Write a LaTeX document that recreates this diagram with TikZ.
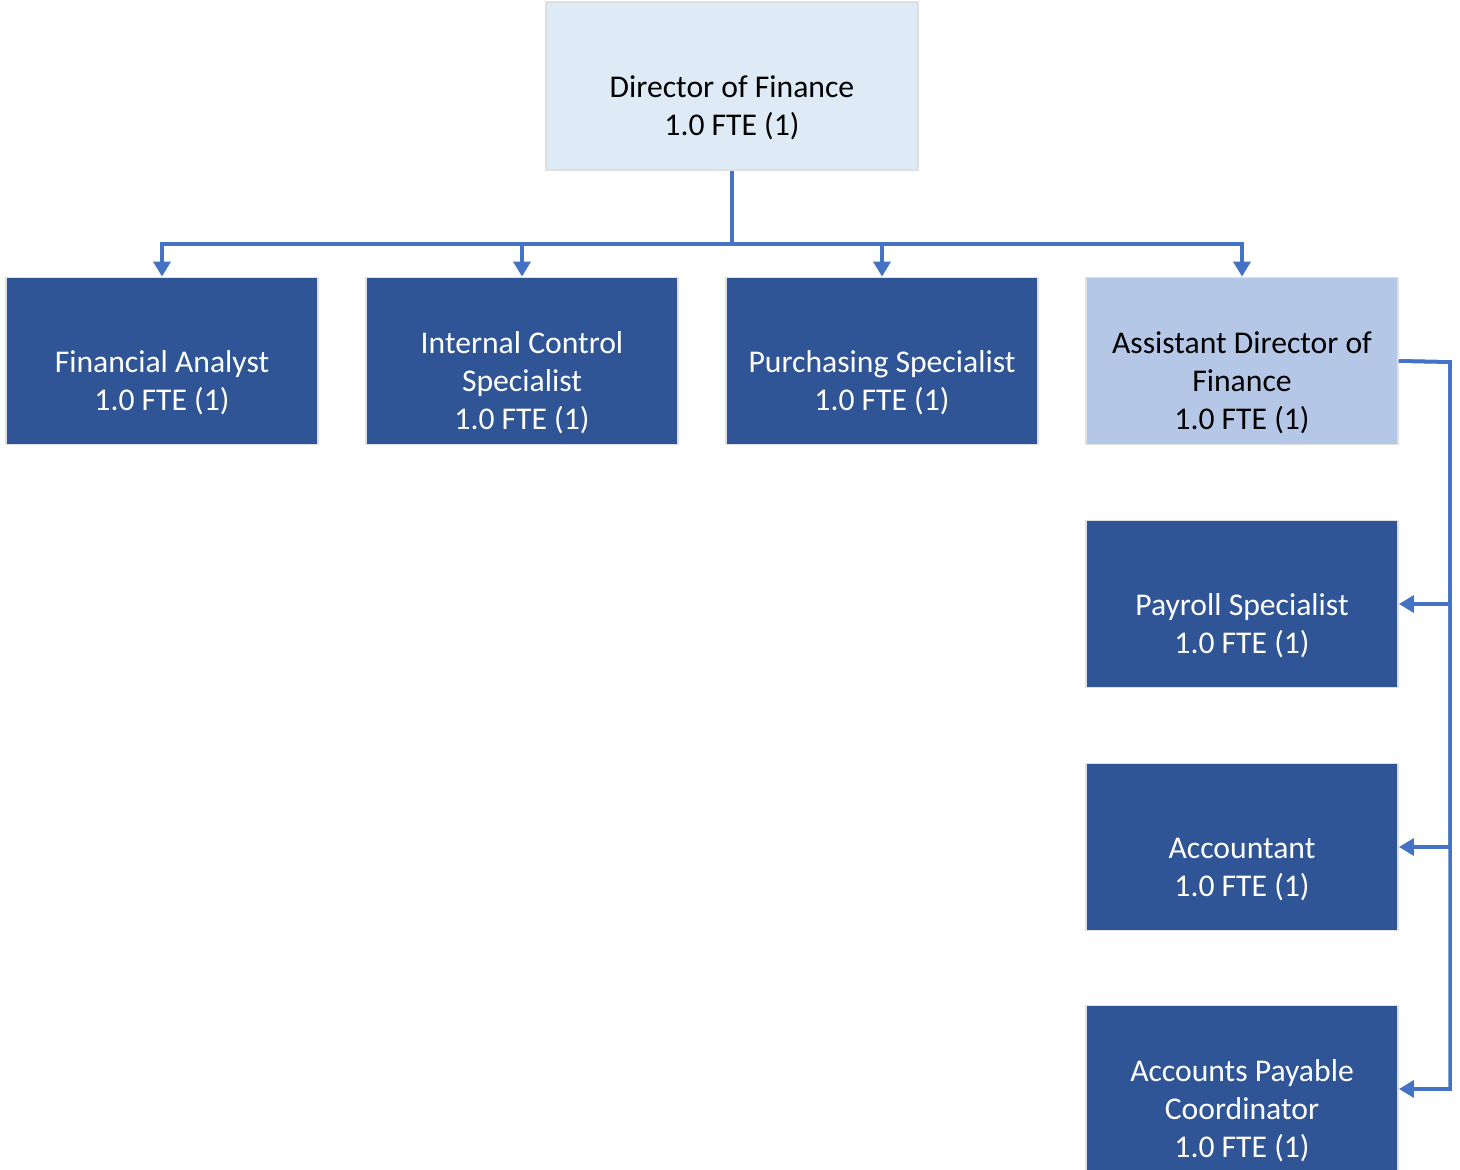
\documentclass[tikz,border=0pt]{standalone}
\usepackage{fontspec}
\setmainfont{Carlito}
\usetikzlibrary{arrows.meta,positioning}

\definecolor{darkrole}{HTML}{2F5597}
\definecolor{lightrole}{HTML}{B4C7E7}
\definecolor{toprole}{HTML}{DEEBF7}
\definecolor{connblue}{HTML}{4472C4}

\begin{document}
\begin{tikzpicture}[
    x=0.01cm, y=-0.01cm,
    role/.style={draw=black!12, line width=0.5pt, minimum width=3.12cm, minimum height=1.67cm, inner sep=0pt, align=center, font=\fontsize{9pt}{10.8pt}\selectfont},
    staff/.style={role, fill=darkrole, text=white},
    head/.style={role, fill=toprole, text=black},
    deputy/.style={role, fill=lightrole, text=black},
    conn/.style={-{Triangle[width=0.17cm,length=0.15cm]}, connblue, line width=1pt}
]
\useasboundingbox (0,0) rectangle (1460,1170);

\node[head, minimum width=3.72cm, minimum height=1.68cm] (dir) at (732,86) {\strut\\Director of Finance\\1.0 FTE (1)};

\node[staff] (fa) at (162,361) {\strut\\Financial Analyst\\1.0 FTE (1)};
\node[staff] (ics) at (522,361) {\strut\\Internal Control\\Specialist\\1.0 FTE (1)};
\node[staff] (ps) at (882,361) {\strut\\Purchasing Specialist\\1.0 FTE (1)};
\node[deputy] (adf) at (1242,361) {\strut\\Assistant Director of\\Finance\\1.0 FTE (1)};

\node[staff] (pay) at (1242,604) {\strut\\Payroll Specialist\\1.0 FTE (1)};
\node[staff] (acc) at (1242,847) {\strut\\Accountant\\1.0 FTE (1)};
\node[staff] (apc) at (1242,1089) {\strut\\Accounts Payable\\Coordinator\\1.0 FTE (1)};

\coordinate (bus) at (732,244);
\coordinate (rail) at (1450,362);

% director to first row
\foreach \n in {fa,ics,ps,adf}
  \draw[conn] (dir.south) -- (bus) -| (\n.north);

% assistant director to her staff
\foreach \n in {pay,acc,apc}
  \draw[conn] (adf.east) -- (rail) |- (\n.east);
\end{tikzpicture}
\end{document}
